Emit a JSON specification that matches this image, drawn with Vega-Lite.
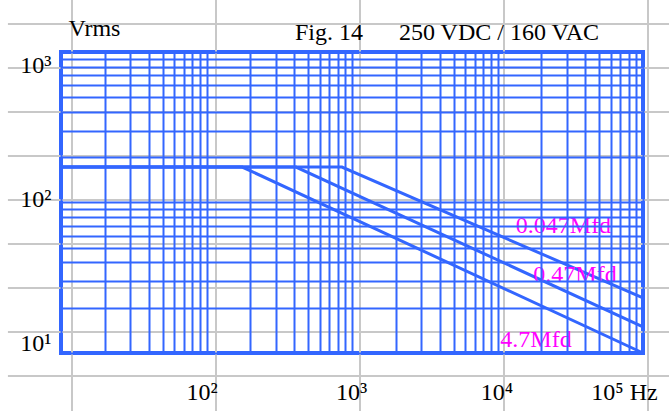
{
  "$schema": "https://vega.github.io/schema/vega-lite/v6.json",
  "width": 582,
  "height": 301,
  "autosize": {"type": "none"},
  "padding": {"left": 61, "top": 52, "right": 26, "bottom": 58},
  "background": "white",
  "config": {"view": {"stroke": "#3366ff", "strokeWidth": 4}, "font": "Liberation Serif"},
  "title": {
    "text": "Fig. 14\u00a0\u00a0\u00a0\u00a0\u00a0\u00a0250 VDC / 160 VAC",
    "anchor": "start",
    "frame": "group",
    "dx": 234,
    "offset": -65,
    "baseline": "alphabetic",
    "font": "Liberation Serif",
    "fontSize": 24,
    "fontWeight": "normal",
    "color": "black"
  },
  "datasets": {
    "grayV": [
      {"gi": 0, "gk0": -0.8, "gk1": 8.55},
      {"gi": 1, "gk0": -0.8, "gk1": 8.55},
      {"gi": 2, "gk0": -0.8, "gk1": 8.55},
      {"gi": 3, "gk0": -0.8, "gk1": 8.55},
      {"gi": 4, "gk0": -0.8, "gk1": 8.55}
    ],
    "grayH": [
      {"gk": 0, "gi0": -0.445, "gi1": 4.15},
      {"gk": 1, "gi0": -0.445, "gi1": 4.15},
      {"gk": 2, "gi0": -0.445, "gi1": 4.15},
      {"gk": 3, "gi0": -0.445, "gi1": 4.15},
      {"gk": 4, "gi0": -0.445, "gi1": 4.15},
      {"gk": 5, "gi0": -0.445, "gi1": 4.15},
      {"gk": 6, "gi0": -0.445, "gi1": 4.15},
      {"gk": 7, "gi0": -0.445, "gi1": 4.15},
      {"gk": 8, "gi0": -0.445, "gi1": 4.15}
    ],
    "curves": [
      {"series": "4.7Mfd", "f": 10, "v": 172},
      {"series": "4.7Mfd", "f": 176, "v": 172},
      {"series": "4.7Mfd", "f": 100000, "v": 10},
      {"series": "0.47Mfd", "f": 10, "v": 172},
      {"series": "0.47Mfd", "f": 412, "v": 172},
      {"series": "0.47Mfd", "f": 100000, "v": 14.9},
      {"series": "0.047Mfd", "f": 10, "v": 172},
      {"series": "0.047Mfd", "f": 853, "v": 172},
      {"series": "0.047Mfd", "f": 100000, "v": 23.2}
    ],
    "labels": [
      {"label": "0.047Mfd", "f": 28400, "v": 62.7},
      {"label": "0.47Mfd", "f": 34100, "v": 29.6},
      {"label": "4.7Mfd", "f": 18400, "v": 11.0}
    ]
  },
  "layer": [
    {
      "layer": [
        {
          "data": {"name": "grayV"},
          "mark": {"type": "rule", "color": "#c8c8c8", "strokeWidth": 2},
          "encoding": {
            "x": {"field": "gi", "type": "quantitative", "scale": {"type": "linear", "domain": [-0.0764, 3.9653], "nice": false, "zero": false}, "axis": null},
            "y": {"field": "gk0", "type": "quantitative", "scale": {"type": "linear", "domain": [0.5227, 7.3636], "nice": false, "zero": false}, "axis": null},
            "y2": {"field": "gk1"}
          }
        },
        {
          "data": {"name": "grayH"},
          "mark": {"type": "rule", "color": "#c8c8c8", "strokeWidth": 2},
          "encoding": {
            "x": {"field": "gi0", "type": "quantitative", "scale": {"type": "linear", "domain": [-0.0764, 3.9653], "nice": false, "zero": false}, "axis": null},
            "x2": {"field": "gi1"},
            "y": {"field": "gk", "type": "quantitative", "scale": {"type": "linear", "domain": [0.5227, 7.3636], "nice": false, "zero": false}, "axis": null}
          }
        }
      ]
    },
    {
      "layer": [
        {
          "data": {"name": "curves"},
          "mark": {"type": "line", "color": "#3366ff", "strokeWidth": 3, "interpolate": "linear"},
          "encoding": {
            "x": {
              "field": "f", "type": "quantitative",
              "scale": {"type": "log", "domain": [10, 100000], "nice": false},
              "axis": {
                "orient": "bottom",
                "values": [10,20,30,40,50,60,70,80,90,100,200,300,400,500,600,700,800,900,1000,2000,3000,4000,5000,6000,7000,8000,9000,10000,20000,30000,40000,50000,60000,70000,80000,90000,100000],
                "grid": true, "gridColor": "#3366ff", "gridWidth": 2, "gridOpacity": 1,
                "domain": false, "ticks": false, "tickSize": 0,
                "labelExpr": "datum.value == 100 ? '10²' : datum.value == 1000 ? '10³' : datum.value == 10000 ? '10⁴' : datum.value == 100000 ? '10⁵ Hz' : ''",
                "labelFont": "Liberation Serif", "labelFontSize": 24, "labelColor": "black",
                "labelBaseline": "alphabetic", "labelAlign": "center", "labelPadding": 46,
                "labelOffset": {"condition": [{"test": "datum.value == 100", "value": -5}, {"test": "datum.value == 100000", "value": -19}], "value": -1},
                "labelOverlap": false, "labelFlush": false, "labelBound": false,
                "title": null, "zindex": 1
              }
            },
            "y": {
              "field": "v", "type": "quantitative",
              "scale": {"type": "log", "domain": [10, 1000], "nice": false},
              "axis": {
                "orient": "left",
                "values": [10,20,30,40,50,60,70,80,90,100,200,300,400,500,600,700,800,900,1000],
                "grid": true, "gridColor": "#3366ff", "gridWidth": 2, "gridOpacity": 1,
                "domain": false, "ticks": false, "tickSize": 0,
                "labelExpr": "datum.value == 1000 ? '10³' : datum.value == 100 ? '10²' : datum.value == 10 ? '10¹' : ''",
                "labelFont": "Liberation Serif", "labelFontSize": 24, "labelColor": "black",
                "labelBaseline": "alphabetic", "labelAlign": "right", "labelPadding": 10,
                "labelOffset": {"condition": [{"test": "datum.value == 1000", "value": 20}, {"test": "datum.value == 100", "value": 4}], "value": -3},
                "labelOverlap": false, "labelFlush": false, "labelBound": false,
                "title": "Vrms", "titleAngle": 0, "titleAlign": "left", "titleBaseline": "alphabetic",
                "titleX": 7, "titleY": -17, "titleFont": "Liberation Serif", "titleFontSize": 24,
                "titleFontWeight": "normal", "titleColor": "black",
                "zindex": 1
              }
            },
            "detail": {"field": "series"},
            "order": {"field": "f", "type": "quantitative"}
          }
        },
        {
          "data": {"name": "labels"},
          "mark": {"type": "text", "color": "#ff00ff", "font": "Liberation Serif", "fontSize": 24, "align": "center", "baseline": "alphabetic"},
          "encoding": {
            "x": {"field": "f", "type": "quantitative"},
            "y": {"field": "v", "type": "quantitative"},
            "text": {"field": "label"}
          }
        }
      ]
    }
  ],
  "resolve": {"scale": {"x": "independent", "y": "independent"}}
}
